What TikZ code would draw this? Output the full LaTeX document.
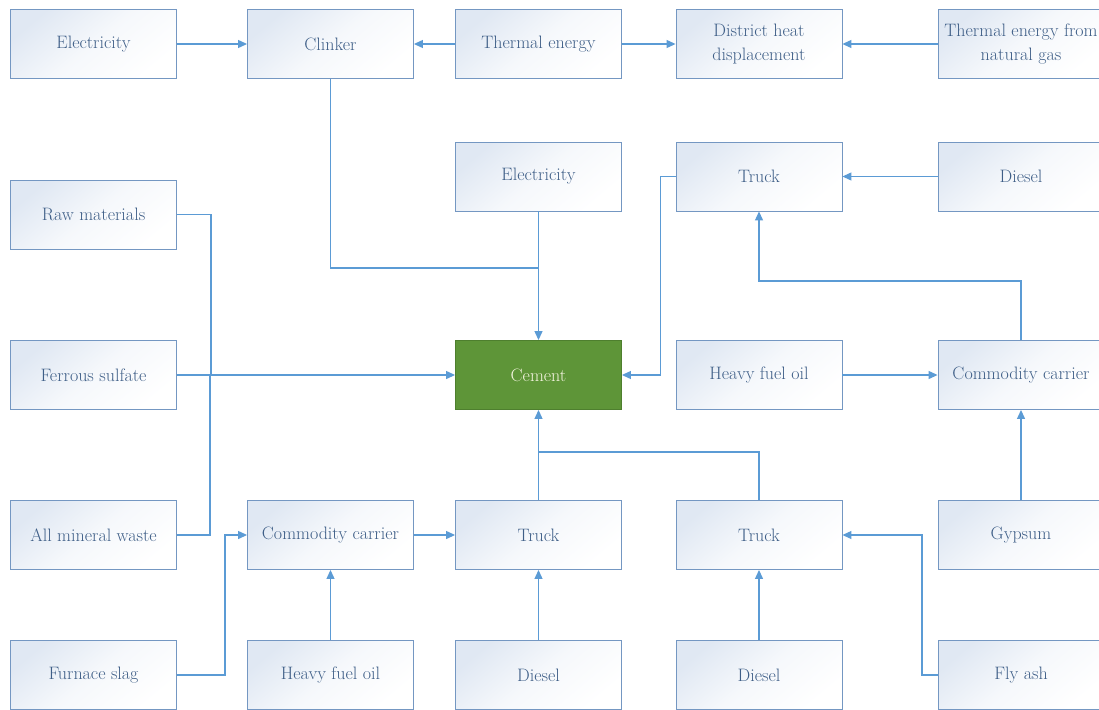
\documentclass[tikz,border=0pt]{standalone}
\usetikzlibrary{arrows.meta}
\definecolor{boxline}{HTML}{7497C2}
\definecolor{boxtint}{HTML}{E0E8F3}
\definecolor{boxtext}{HTML}{3E5E87}
\definecolor{flow}{HTML}{5B9BD5}
\definecolor{cementfill}{HTML}{5E9538}
\definecolor{cementline}{HTML}{4E7F2E}
\definecolor{cementtext}{HTML}{F4F4E0}
\tikzset{
  box/.style={draw=boxline, line width=0.9pt, top color=boxtint, bottom color=white,
    middle color=white!70!boxtint, shading angle=40, minimum width=166pt, minimum height=69pt, inner sep=2pt,
    align=center, text=boxtext, font=\rmfamily\fontsize{18}{24}\selectfont},
  mainbox/.style={box, draw=cementline, text=cementtext,
    top color=cementfill, bottom color=cementfill, middle color=cementfill},
  flowline/.style={draw=flow, line width=1.2pt},
  arr/.style={flowline, -{Triangle[length=9pt,width=8pt]}}
}
\begin{document}
\begin{tikzpicture}[x=1pt,y=-1pt]
\useasboundingbox (0,0) rectangle (1099,709);
\clip (0,0) rectangle (1099,709);
\fill[white] (0,0) rectangle (1099,709);

% columns: 93.5, 330.5, 538.5, 759, 1021
% top row
\node[box] (elec1) at (93.5,44) {Electricity};
\node[box] (clinker) at (330.5,44) {Clinker};
\node[box] (thermal) at (538.5,44) {Thermal energy};
\node[box] (dhd) at (759,44) {District heat\\displacement};
\node[box] (tegas) at (1021,44) {Thermal energy from\\natural gas};
% second row
\node[box] (elec2) at (538.5,176.5) {Electricity};
\node[box] (truckA) at (759,176.5) {Truck};
\node[box] (dieselA) at (1021,176.5) {Diesel};
\node[box] (raw) at (93.5,214.5) {Raw materials};
% middle row
\node[box] (ferrous) at (93.5,375) {Ferrous sulfate};
\node[mainbox] (cement) at (538.5,375) {Cement};
\node[box] (hfoA) at (759,375) {Heavy fuel oil};
\node[box] (ccA) at (1021,375) {Commodity carrier};
% fourth row
\node[box] (mineral) at (93.5,535) {All mineral waste};
\node[box] (ccB) at (330.5,535) {Commodity carrier};
\node[box] (truckB) at (538.5,535) {Truck};
\node[box] (truckC) at (759,535) {Truck};
\node[box] (gypsum) at (1021,535) {Gypsum};
% bottom row
\node[box] (slag) at (93.5,675) {Furnace slag};
\node[box] (hfoB) at (330.5,675) {Heavy fuel oil};
\node[box] (dieselB) at (538.5,675) {Diesel};
\node[box] (dieselC) at (759,675) {Diesel};
\node[box] (flyash) at (1021,675) {Fly ash};

% top row flows
\draw[arr] (elec1) -- (clinker);
\draw[arr] (thermal) -- (clinker);
\draw[arr] (thermal) -- (dhd);
\draw[arr] (tegas) -- (dhd);

% inputs to cement from above
\draw[flowline] (clinker.south) |- (538.5,268);
\draw[arr] (elec2) -- (cement);

% inputs to cement from the left
\draw[flowline] (raw.east) -| (211,375);
\draw[flowline] (mineral.east) -| (210,375);
\draw[arr] (ferrous) -- (cement);

% inputs to cement from the right
\draw[arr] (truckA.west) -- ++(-15,0) |- (cement.east);
\draw[arr] (dieselA) -- (truckA);
\draw[arr] (ccA.north) |- (759,281) -- (truckA.south);
\draw[arr] (hfoA) -- (ccA);
\draw[arr] (gypsum) -- (ccA);

% inputs to cement from below
\draw[arr] (truckB) -- (cement);
\draw[flowline] (truckC.north) |- (538.5,452);
\draw[arr] (ccB) -- (truckB);
\draw[arr] (slag.east) -- (225,675) |- (ccB.west);
\draw[arr] (hfoB) -- (ccB);
\draw[arr] (dieselB) -- (truckB);
\draw[arr] (dieselC) -- (truckC);
\draw[arr] (flyash.west) -- (922,675) |- (truckC.east);
\end{tikzpicture}
\end{document}
